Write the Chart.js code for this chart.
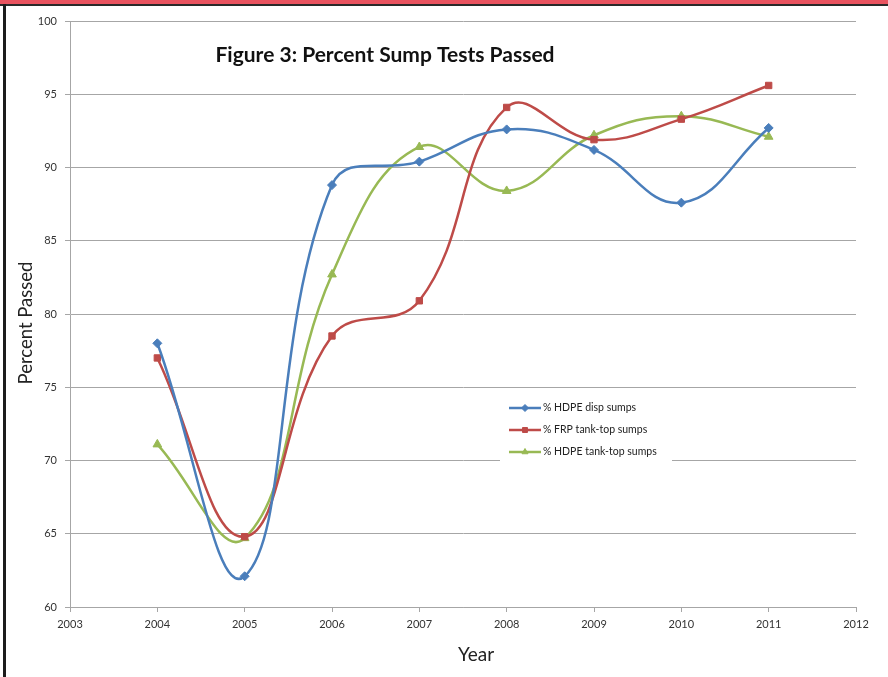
<!DOCTYPE html>
<html>
<head>
<meta charset="utf-8">
<script src="https://cdn.jsdelivr.net/npm/chart.js@4.4.1/dist/chart.umd.min.js"></script>
<style>
  html, body { margin: 0; padding: 0; background: #ffffff; }
  #wrap { position: relative; width: 888px; height: 677px; overflow: hidden; }
  #chart { position: absolute; left: 0; top: 0; }
  .topband { position: absolute; left: 0; top: 0; width: 888px; height: 4px; background: #e9535f; }
  .topline { position: absolute; left: 0; top: 4px; width: 888px; height: 2px; background: #2a2a2a; }
  .leftline { position: absolute; left: 3px; top: 4px; width: 3px; height: 673px; background: #1c1c1c; }
</style>
</head>
<body>
<div id="wrap">
  <canvas id="chart" width="888" height="677"></canvas>
  <div class="topband"></div>
  <div class="topline"></div>
  <div class="leftline"></div>
</div>
<script>
// Survey years and pass rates (%) for each sump type
const years = [2004, 2005, 2006, 2007, 2008, 2009, 2010, 2011];
const hdpeDisp = [78.0, 62.1, 88.8, 90.4, 92.6, 91.2, 87.6, 92.7];
const frpTankTop = [77.0, 64.8, 78.5, 80.9, 94.1, 91.9, 93.3, 95.6];
const hdpeTankTop = [71.1, 64.7, 82.7, 91.4, 88.4, 92.2, 93.5, 92.1];
const seriesNames = ['% HDPE disp sumps', '% FRP tank-top sumps', '% HDPE tank-top sumps'];
const chartTitle = 'Figure 3: Percent Sump Tests Passed';
const xAxisTitle = 'Year';
const yAxisTitle = 'Percent Passed';

const pts = arr => years.map((yr, i) => ({ x: yr, y: arr[i] }));

const lineStyle = (color, style, r) => ({
  borderColor: color,
  backgroundColor: color,
  pointBackgroundColor: color,
  pointBorderColor: color,
  pointStyle: style,
  pointRadius: r,
  pointBorderWidth: 1,
  borderWidth: 2.5,
  tension: 0.42,
  fill: false
});

// Chart title and axis titles drawn as free text
const freeText = {
  id: 'freeText',
  afterDraw(chart) {
    const ctx = chart.ctx;
    ctx.save();
    ctx.fillStyle = '#111111';
    ctx.textAlign = 'center';
    ctx.textBaseline = 'middle';
    ctx.font = 'bold 21px Lato, "Open Sans", sans-serif';
    ctx.fillText(chartTitle, 385, 55);
    ctx.fillStyle = '#222222';
    ctx.font = '19px Lato, "Open Sans", sans-serif';
    ctx.fillText(xAxisTitle, 476, 655);
    ctx.font = '18.5px Lato, "Open Sans", sans-serif';
    ctx.translate(26, 323);
    ctx.rotate(-Math.PI / 2);
    ctx.fillText(yAxisTitle, 0, 0);
    ctx.restore();
  }
};

// Boxed legend inside the plot area
const innerLegend = {
  id: 'innerLegend',
  afterDraw(chart) {
    const ctx = chart.ctx;
    const x0 = 500, y0 = 396, w = 172, h = 68;
    ctx.save();
    ctx.fillStyle = '#ffffff';
    ctx.fillRect(x0, y0, w, h);
    ctx.font = '10.5px Lato, "Open Sans", sans-serif';
    ctx.textBaseline = 'middle';
    ctx.textAlign = 'left';
    chart.data.datasets.forEach((ds, i) => {
      const y = 408 + i * 22;
      ctx.strokeStyle = ds.borderColor;
      ctx.lineWidth = 2.5;
      ctx.beginPath();
      ctx.moveTo(509, y);
      ctx.lineTo(541, y);
      ctx.stroke();
      ctx.fillStyle = ds.borderColor;
      ctx.lineWidth = 1;
      Chart.helpers.drawPoint(ctx, { pointStyle: ds.pointStyle, radius: 3.5, borderWidth: 1, rotation: 0 }, 525, y);
      ctx.fillStyle = '#222222';
      ctx.fillText(ds.label, 543, y);
    });
    ctx.restore();
  }
};

new Chart(document.getElementById('chart'), {
  type: 'line',
  data: {
    datasets: [
      Object.assign({ label: seriesNames[0], data: pts(hdpeDisp) }, lineStyle('#4a7ebb', 'rectRot', 4.5)),
      Object.assign({ label: seriesNames[1], data: pts(frpTankTop) }, lineStyle('#be4b48', 'rect', 4.5)),
      Object.assign({ label: seriesNames[2], data: pts(hdpeTankTop) }, lineStyle('#98b954', 'triangle', 5))
    ]
  },
  options: {
    responsive: false,
    animation: false,
    layout: { padding: { left: 0, right: 32, top: 21, bottom: 0 } },
    plugins: {
      legend: { display: false },
      title: { display: false },
      tooltip: { enabled: false }
    },
    scales: {
      x: {
        type: 'linear',
        min: 2003,
        max: 2012,
        afterFit(scale) { scale.height = 70; },
        border: { display: true, color: '#a6a6a6', width: 1 },
        grid: { drawOnChartArea: false, drawTicks: true, tickLength: 5, color: '#a6a6a6' },
        ticks: {
          stepSize: 1,
          padding: 6,
          color: '#333333',
          font: { family: 'Lato, "Open Sans", sans-serif', size: 11 },
          callback: v => String(v)
        },
        title: { display: false }
      },
      y: {
        min: 60,
        max: 100,
        afterFit(scale) { scale.width = 70; },
        border: { display: true, color: '#a6a6a6', width: 1 },
        grid: { drawOnChartArea: true, drawTicks: true, tickLength: 5, color: '#a6a6a6' },
        ticks: {
          stepSize: 5,
          padding: 8,
          color: '#333333',
          font: { family: 'Lato, "Open Sans", sans-serif', size: 11 }
        },
        title: { display: false }
      }
    }
  },
  plugins: [freeText, innerLegend]
});
</script>
</body>
</html>
